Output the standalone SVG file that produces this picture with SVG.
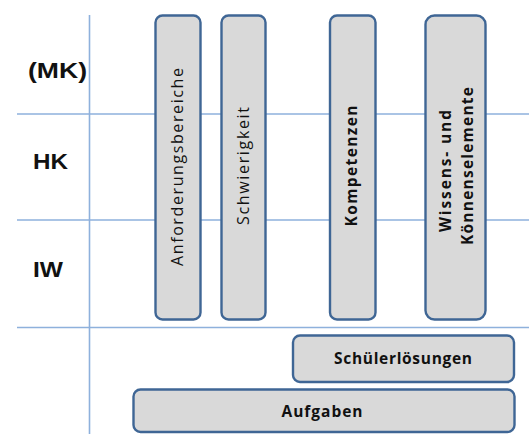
<svg xmlns="http://www.w3.org/2000/svg" width="529" height="434" viewBox="0 0 529 434">
<style>
.grid{stroke:#8eb1dc;stroke-width:1.6;fill:none}
.box{fill:#d9d9d9;stroke:#3f6695;stroke-width:2.4}
.lab{font-family:"Liberation Sans",Arial,sans-serif;font-weight:bold;font-size:22px;fill:#111}
.t{font-family:"Open Sans","DejaVu Sans",sans-serif;font-size:16px;fill:#111;text-anchor:middle}
.b{font-weight:bold;font-size:15.5px}
</style>
<rect width="529" height="434" fill="#fff"/>
<g id="connectors">
<line class="grid" x1="89.5" y1="15" x2="89.5" y2="434"/>
<line class="grid" x1="17" y1="114" x2="529" y2="114"/>
<line class="grid" x1="17" y1="220" x2="529" y2="220"/>
<line class="grid" x1="17" y1="327.5" x2="529" y2="327.5"/>
</g>
<g id="label-mk"><text class="lab" x="28" y="78" textLength="59" lengthAdjust="spacingAndGlyphs">(MK)</text></g>
<g id="label-hk"><text class="lab" x="33" y="169" textLength="35" lengthAdjust="spacingAndGlyphs">HK</text></g>
<g id="label-iw"><text class="lab" x="33" y="277" textLength="30" lengthAdjust="spacingAndGlyphs">IW</text></g>
<g id="anforderungsbereiche">
<rect class="box" x="155.5" y="15.5" width="45" height="304" rx="7"/>
<text class="t" transform="translate(183,167) rotate(-90)" textLength="198" lengthAdjust="spacing">Anforderungsbereiche</text>
</g>
<g id="schwierigkeit">
<rect class="box" x="221.5" y="15.5" width="44" height="304" rx="7"/>
<text class="t" transform="translate(249,166) rotate(-90)" textLength="118" lengthAdjust="spacing">Schwierigkeit</text>
</g>
<g id="kompetenzen">
<rect class="box" x="330" y="15.5" width="45.5" height="304" rx="7"/>
<text class="t b" transform="translate(357,166) rotate(-90)" textLength="121" lengthAdjust="spacing">Kompetenzen</text>
</g>
<g id="wissens">
<rect class="box" x="425.5" y="15.5" width="60" height="304" rx="9"/>
<text class="t b" transform="translate(451,171) rotate(-90)" textLength="122" lengthAdjust="spacing">Wissens- und</text>
<text class="t b" transform="translate(473,166) rotate(-90)" textLength="158" lengthAdjust="spacing">Könnenselemente</text>
</g>
<g id="schuelerloesungen">
<rect class="box" x="293" y="335.5" width="221" height="46.5" rx="7"/>
<text class="t b" x="403" y="364" textLength="138" lengthAdjust="spacing">Schülerlösungen</text>
</g>
<g id="aufgaben">
<rect class="box" x="133.5" y="389.5" width="381" height="42.5" rx="7"/>
<text class="t b" x="322" y="417" textLength="81" lengthAdjust="spacing">Aufgaben</text>
</g>
</svg>
